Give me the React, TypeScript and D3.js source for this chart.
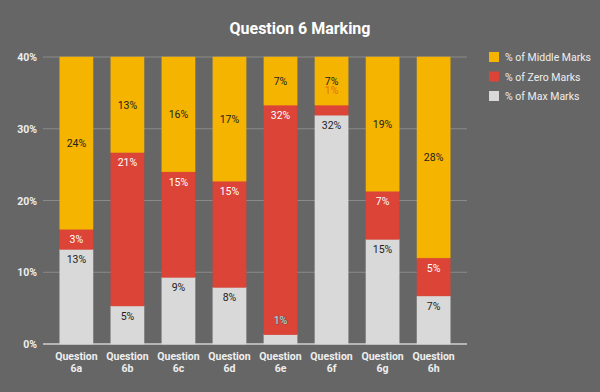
import React from 'react'
import * as d3 from 'd3'

const categories = ['6a', '6b', '6c', '6d', '6e', '6f', '6g', '6h']
const maxMarks = [13.2, 5.3, 9.3, 7.9, 1.3, 31.9, 14.6, 6.7]
const zeroMarks = [2.8, 21.4, 14.7, 14.8, 32.0, 1.4, 6.7, 5.3]
const middleMarks = [24.0, 13.3, 16.0, 17.3, 6.7, 6.7, 18.7, 28.0]
const yTicks = [0, 10, 20, 30, 40]

const seriesNames = ['% of Middle Marks', '% of Zero Marks', '% of Max Marks']
const seriesColors = ['#f4b400', '#db4437', '#d9d9d9']
const labelColors = ['#222', '#fff', '#222']

const W = 600
const H = 392
const margin = { left: 43, right: 133, top: 57, bottom: 48 }
const font = 'Roboto, sans-serif'

export default function App() {
    const x = d3.scaleBand<string>()
        .domain(categories)
        .range([margin.left, W - margin.right])
        .paddingInner(0.35)
        .paddingOuter(0.33)

    const y = d3.scaleLinear()
        .domain([0, 40])
        .range([H - margin.bottom, margin.top])

    // stack bottom to top: max, zero, middle
    const rows = categories.map((c, i) => ({ cat: c, max: maxMarks[i], zero: zeroMarks[i], middle: middleMarks[i] }))
    const stack = d3.stack<any>().keys(['max', 'zero', 'middle'])(rows)
    const keyIndex = { max: 2, zero: 1, middle: 0 }

    // flatten segments so that all rects are drawn before the labels
    const segs = stack.flatMap(layer => layer.map((d, i) => {
        const si = keyIndex[layer.key]
        const top = y(d[1])
        const bottom = y(d[0])
        let mid = (top + bottom) / 2
        let fill = labelColors[si]
        let stroke = 'none'
        if (layer.key !== 'middle') {
            // labels sit near the top of the segment
            mid = top + 10
            if (bottom - top < 16) {
                // too small: label goes above the segment
                mid = top - 15
                if (layer.key === 'max') { fill = '#ddd'; stroke = '#555' }
                else fill = '#e8711c'
            }
        }
        return { key: layer.key + i, si, x0: x(categories[i])!, top, bottom, v: d[1] - d[0], mid, fill, stroke }
    }))

    return (
        <svg width={W} height={H} style={{ position: 'absolute', left: 0, top: 0 }}>
            <rect width={W} height={H} fill="#666666" />
            <text x={300} y={34} textAnchor="middle" fill="#fff" fontFamily={font}
                  fontWeight="bold" fontSize={16}>Question 6 Marking</text>

            {yTicks.map(t => (
                <g key={t}>
                    <line x1={margin.left} x2={W - margin.right} y1={y(t)} y2={y(t)}
                          stroke={t === 0 ? '#d0d0d0' : '#8a8a8a'} strokeWidth={t === 0 ? 1.5 : 1} />
                    <text x={37} y={y(t) + 4} textAnchor="end" fill="#eee" fontFamily={font}
                          fontWeight="bold" fontSize={10.5}>{t}%</text>
                </g>
            ))}

            {segs.map(s => (
                <rect key={s.key} x={s.x0} y={s.top} width={x.bandwidth()} height={s.bottom - s.top}
                      fill={seriesColors[s.si]} stroke={seriesColors[s.si]} strokeWidth={0.5} />
            ))}
            {segs.map(s => (
                <text key={'t' + s.key} x={s.x0 + x.bandwidth() / 2} y={s.mid + 4} textAnchor="middle"
                      fill={s.fill} stroke={s.stroke} strokeWidth={s.stroke === 'none' ? 0 : 0.8}
                      paintOrder="stroke" fontFamily={font} fontSize={10.5}>{Math.round(s.v)}%</text>
            ))}

            {categories.map(c => (
                <text key={c} x={x(c)! + x.bandwidth() / 2} y={360} textAnchor="middle" fill="#eee"
                      fontFamily={font} fontWeight="bold" fontSize={10.5}>
                    <tspan x={x(c)! + x.bandwidth() / 2}>Question</tspan>
                    <tspan x={x(c)! + x.bandwidth() / 2} dy={12}>{c}</tspan>
                </text>
            ))}

            {seriesNames.map((s, i) => (
                <g key={s} transform={`translate(489, ${52 + i * 19.5})`}>
                    <rect width={10} height={10} fill={seriesColors[i]} />
                    <text x={16} y={9} fill="#eee" fontFamily={font} fontSize={10.5}>{s}</text>
                </g>
            ))}
        </svg>
    )
}
